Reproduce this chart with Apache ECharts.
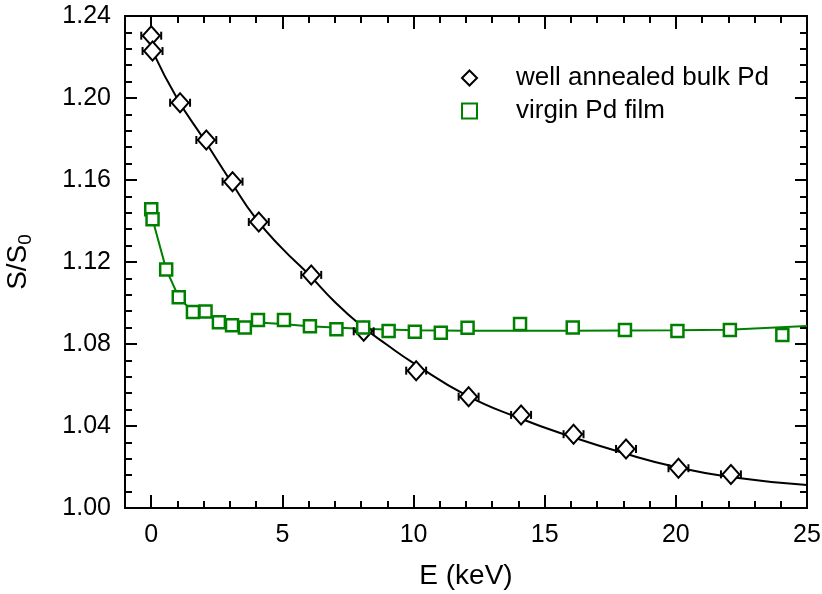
<!DOCTYPE html>
<html>
<head>
<meta charset="utf-8">
<script src="https://cdn.jsdelivr.net/npm/echarts@6/dist/echarts.min.js"></script>
<style>
  html, body { margin: 0; padding: 0; background: #fff; }
  #chart { width: 822px; height: 594px; }
</style>
</head>
<body>
<div id="chart"></div>
<script>
// measured points, well annealed bulk Pd
const bulkE = [0, 0.05, 1.1, 2.1, 3.1, 4.1, 6.1, 8.1, 10.1, 12.1, 14.1, 16.1, 18.1, 20.1, 22.1]
const bulkS = [1.2304, 1.2229, 1.1977, 1.1795, 1.1592, 1.1395, 1.1137, 1.0862, 1.0670, 1.0543, 1.0454, 1.0360, 1.0288, 1.0194, 1.0164]
const bulkErrE = [0.38, 0.38, 0.38, 0.38, 0.38, 0.38, 0.38, 0.38, 0.38, 0.38, 0.38, 0.38, 0.38, 0.38, 0.38]

// measured points, virgin Pd film
const filmE = [0, 0.05, 0.57, 1.05, 1.59, 2.07, 2.58, 3.08, 3.57, 4.07, 5.06, 6.05, 7.06, 8.08, 9.05, 10.05, 11.04, 12.06, 14.06, 16.07, 18.06, 20.06, 22.06, 24.06]
const filmS = [1.1457, 1.1408, 1.1164, 1.1028, 1.0956, 1.0959, 1.0906, 1.0891, 1.0880, 1.0917, 1.0917, 1.0886, 1.0872, 1.0881, 1.0863, 1.0860, 1.0855, 1.0879, 1.0898, 1.0881, 1.0868, 1.0863, 1.0868, 1.0844]

// fitted curves
const bulkFitE = [0.05, 1, 2, 3, 4, 5, 6, 7, 8, 9, 10, 12, 14, 16, 18, 20, 22, 25]
const bulkFitS = [1.2229, 1.1995, 1.1800, 1.1600, 1.1410, 1.1265, 1.1140, 1.1005, 1.0890, 1.0795, 1.0707, 1.0551, 1.0440, 1.0348, 1.0268, 1.0200, 1.0153, 1.0112]
const filmFitE = [0.05, 0.57, 1.05, 1.59, 2.07, 2.58, 3.08, 3.57, 4.07, 5, 6, 8, 10, 12, 14, 16, 18, 20, 22, 25]
const filmFitS = [1.1408, 1.1164, 1.1028, 1.0956, 1.0954, 1.0906, 1.0891, 1.0882, 1.0905, 1.0897, 1.0887, 1.0874, 1.0867, 1.0865, 1.0865, 1.0865, 1.0866, 1.0867, 1.0870, 1.0888]

const xMajor = [0, 5, 10, 15, 20, 25]
const xMinor = [-1, 1, 2, 3, 4, 6, 7, 8, 9, 11, 12, 13, 14, 16, 17, 18, 19, 21, 22, 23, 24]

const green = '#008000'
const font = '"Liberation Sans", Arial, sans-serif'

const chartDom = document.getElementById('chart')
const myChart = echarts.init(chartDom)

function xAxisDef(pos, ticks, len, showLabel) {
  return {
    type: 'value',
    position: pos,
    min: -1,
    max: 25,
    axisLine: { show: true, onZero: false, lineStyle: { color: '#000', width: 2 } },
    axisTick: { show: true, inside: true, length: len, customValues: ticks, lineStyle: { color: '#000', width: 2 } },
    axisLabel: { show: showLabel, customValues: ticks, margin: 15, fontSize: 25, color: '#000', fontFamily: font },
    splitLine: { show: false },
  }
}

function yAxisDef(pos, showLabel) {
  return {
    type: 'value',
    position: pos,
    min: 1.0,
    max: 1.24,
    interval: 0.04,
    axisLine: { show: true, onZero: false, lineStyle: { color: '#000', width: 2 } },
    axisTick: { show: true, inside: true, length: 12, lineStyle: { color: '#000', width: 2 } },
    minorTick: { show: true, splitNumber: 5, length: 7, lineStyle: { color: '#000', width: 2 } },
    axisLabel: {
      show: showLabel, margin: 14, fontSize: 25, color: '#000', fontFamily: font,
      formatter: v => v.toFixed(2),
    },
    splitLine: { show: false },
    minorSplitLine: { show: false },
  }
}

function errorBars(xs, ys, ex) {
  return xs.map((x, i) => [x, ys[i], ex[i]])
}

const option = {
  backgroundColor: '#fff',
  animation: false,
  grid: { left: 125, right: 15, top: 16, bottom: 86, outerBoundsMode: 'none', containLabel: false },
  legend: {
    orient: 'vertical',
    left: 456,
    top: 60,
    itemWidth: 15,
    itemHeight: 15,
    itemGap: 7,
    textStyle: { fontSize: 26, color: '#000', fontFamily: font, padding: [0, 0, 0, 34] },
    data: ['well annealed bulk Pd', 'virgin Pd film'],
  },
  xAxis: [
    Object.assign(xAxisDef('bottom', xMajor, 13, true), {
      name: 'E (keV)',
      nameLocation: 'middle',
      nameGap: 54,
      nameTextStyle: { fontSize: 28, color: '#000', fontFamily: font },
    }),
    xAxisDef('bottom', xMinor, 7, false),
    xAxisDef('top', xMajor, 13, false),
    xAxisDef('top', xMinor, 7, false),
  ],
  yAxis: [
    Object.assign(yAxisDef('left', true), {
      name: '{a|S/S}{b|0}',
      nameLocation: 'middle',
      nameGap: 90,
      nameRotate: 90,
      nameTextStyle: {
        rich: {
          a: { fontSize: 28, color: '#000', fontFamily: font },
          b: { fontSize: 19, color: '#000', fontFamily: font, padding: [14, 0, 0, 0] },
        },
      },
    }),
    yAxisDef('right', false),
  ],
  series: [
    {
      name: 'bulk fit',
      type: 'line',
      data: bulkFitE.map((x, i) => [x, bulkFitS[i]]),
      smooth: true,
      showSymbol: false,
      lineStyle: { color: '#000', width: 2 },
      silent: true,
      z: 1,
    },
    {
      name: 'film fit',
      type: 'line',
      data: filmFitE.map((x, i) => [x, filmFitS[i]]),
      smooth: false,
      showSymbol: false,
      lineStyle: { color: green, width: 2 },
      silent: true,
      z: 1,
    },
    {
      name: 'bulk err',
      type: 'custom',
      data: errorBars(bulkE, bulkS, bulkErrE),
      z: 2,
      renderItem(params, api) {
        const x = api.value(0)
        const y = api.value(1)
        const e = api.value(2)
        const p1 = api.coord([x - e, y])
        const p2 = api.coord([x + e, y])
        const style = { stroke: '#000', lineWidth: 2 }
        return {
          type: 'group',
          children: [
            { type: 'line', shape: { x1: p1[0], y1: p1[1], x2: p2[0], y2: p2[1] }, style },
            { type: 'line', shape: { x1: p1[0], y1: p1[1] - 4, x2: p1[0], y2: p1[1] + 4 }, style },
            { type: 'line', shape: { x1: p2[0], y1: p2[1] - 4, x2: p2[0], y2: p2[1] + 4 }, style },
          ],
        }
      },
    },
    {
      name: 'well annealed bulk Pd',
      type: 'scatter',
      data: bulkE.map((x, i) => [x, bulkS[i]]),
      symbol: 'diamond',
      symbolSize: [17, 19],
      itemStyle: { color: '#fff', borderColor: '#000', borderWidth: 2, opacity: 1 },
      z: 3,
    },
    {
      name: 'virgin Pd film',
      type: 'scatter',
      data: filmE.map((x, i) => [x, filmS[i]]),
      symbol: 'rect',
      symbolSize: 12,
      itemStyle: { color: '#fff', borderColor: green, borderWidth: 2.5, opacity: 1 },
      z: 3,
    },
  ],
}

option && myChart.setOption(option)
</script>
</body>
</html>
